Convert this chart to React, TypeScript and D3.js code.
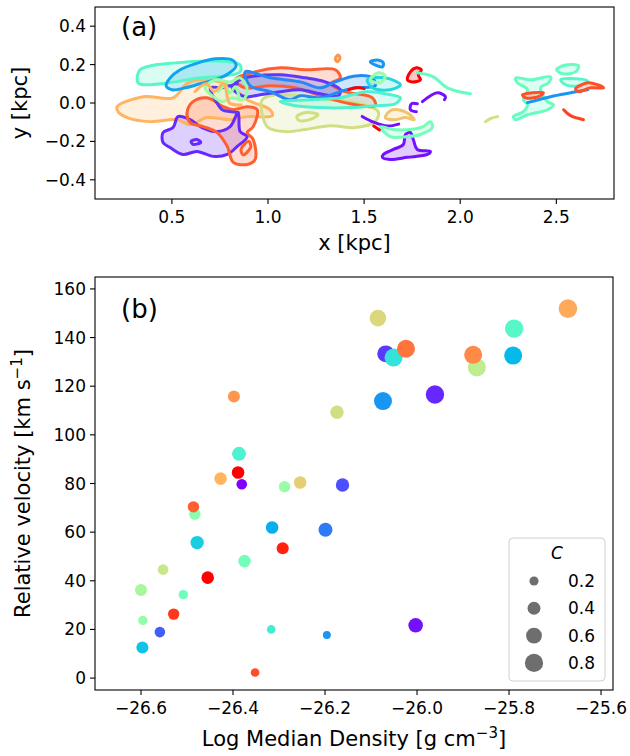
import React from 'react';
import * as d3 from 'd3';

const W = 630;
const H = 756;
const FONT = 'DejaVu Sans, sans-serif';

// ---- panel (b): clump properties ----
const logDensity = [
  -26.398, -26.174, -26.387, -26.389, -26.427, -26.381, -26.288, -26.254, -26.162,
  -26.085, -26.068, -26.051, -26.024, -26.074, -25.961, -25.870, -25.878, -25.789,
  -25.791, -25.672, -26.483, -26.486, -26.478, -26.315, -26.199, -26.292, -26.375,
  -26.455, -26.552, -26.600, -26.508, -26.529, -26.596, -26.559, -26.597, -26.317,
  -26.196, -26.352, -26.003,
];
const velocity = [
  115.8, 109.3, 92.2, 84.5, 82.0, 79.7, 78.7, 80.4, 79.4,
  148.0, 133.3, 131.8, 135.4, 113.9, 116.6, 127.7, 132.9, 143.7,
  132.6, 151.9, 67.4, 70.4, 55.7, 61.9, 61.0, 53.4, 48.1,
  41.3, 44.6, 36.2, 34.3, 26.3, 23.7, 18.9, 12.6, 20.0,
  17.7, 2.3, 21.7,
];
const concentration = [
  0.35, 0.43, 0.47, 0.38, 0.38, 0.27, 0.31, 0.38, 0.43,
  0.66, 0.69, 0.78, 0.78, 0.78, 0.81, 0.78, 0.78, 0.81,
  0.78, 0.83, 0.31, 0.31, 0.43, 0.38, 0.47, 0.35, 0.38,
  0.38, 0.27, 0.35, 0.21, 0.31, 0.21, 0.27, 0.35, 0.18,
  0.15, 0.18, 0.51,
];
const hue = [
  0.80, 0.66, 0.40, 1.00, 0.75, 0.00, 0.55, 0.70, 0.10,
  0.68, 0.07, 0.35, 0.85, 0.20, 0.05, 0.62, 0.82, 0.42,
  0.26, 0.77, 0.52, 0.88, 0.30, 0.24, 0.16, 0.96, 0.48,
  1.00, 0.64, 0.58, 0.47, 0.93, 0.54, 0.12, 0.28, 0.38,
  0.20, 0.90, 0.02,
];

const xTicksA = [0.5, 1.0, 1.5, 2.0, 2.5];
const yTicksA = [-0.4, -0.2, 0.0, 0.2, 0.4];
const xTicksB = [-26.6, -26.4, -26.2, -26.0, -25.8, -25.6];
const yTicksB = [0, 20, 40, 60, 80, 100, 120, 140, 160];
const legendC = [0.2, 0.4, 0.6, 0.8];

// ---- panel (a): projected clump outlines, [x, y] in kpc ----
type Cloud = { h: number; closed: boolean; fill: boolean; pts: [number, number][] };
const clouds: Cloud[] = [
  { h: 0.75, closed: true, fill: true, pts: [[0.215, -0.019], [0.35, 0.033], [0.506, 0.027], [0.584, 0.105], [0.699, 0.121], [0.819, 0.079], [0.892, 0.017], [1.011, -0.035], [1.022, -0.066], [0.892, -0.071], [0.803, -0.087], [0.683, -0.076], [0.595, -0.113], [0.527, -0.087], [0.386, -0.097], [0.267, -0.076], [0.22, -0.045]] },
  { h: 0.66, closed: true, fill: true, pts: [[0.97, 0.017], [1.038, 0.043], [1.168, 0.038], [1.324, 0.017], [1.48, -0.004], [1.574, -0.045], [1.558, -0.097], [1.454, -0.128], [1.324, -0.118], [1.194, -0.138], [1.09, -0.149], [1.001, -0.128], [0.97, -0.061]] },
  { h: 0.66, closed: true, fill: false, pts: [[1.15, -0.07], [1.2, -0.05], [1.26, -0.06], [1.22, -0.085], [1.16, -0.09]] },
  { h: 0.05, closed: true, fill: true, pts: [[0.454, -0.154], [0.506, -0.128], [0.532, -0.071], [0.595, -0.087], [0.657, -0.128], [0.735, -0.149], [0.803, -0.123], [0.845, -0.05], [0.855, -0.149], [0.892, -0.175], [0.84, -0.226], [0.788, -0.268], [0.715, -0.278], [0.631, -0.252], [0.558, -0.268], [0.491, -0.232], [0.454, -0.206]] },
  { h: 0.05, closed: true, fill: false, pts: [[0.6, -0.2], [0.63, -0.19], [0.65, -0.205], [0.61, -0.215]] },
  { h: 0.88, closed: true, fill: true, pts: [[0.579, -0.05], [0.61, 0.007], [0.683, 0.027], [0.767, -0.019], [0.819, -0.035], [0.892, -0.019], [0.944, -0.035], [0.923, -0.123], [0.892, -0.154], [0.923, -0.19], [0.933, -0.294], [0.892, -0.32], [0.819, -0.309], [0.788, -0.226], [0.735, -0.154], [0.663, -0.123], [0.595, -0.102]] },
  { h: 0.88, closed: true, fill: false, pts: [[0.86, -0.24], [0.9, -0.2], [0.91, -0.23], [0.87, -0.27]] },
  { h: 0.42, closed: true, fill: true, pts: [[0.319, 0.121], [0.334, 0.173], [0.386, 0.193], [0.517, 0.209], [0.673, 0.219], [0.803, 0.214], [0.855, 0.198], [0.855, 0.162], [0.777, 0.141], [0.647, 0.131], [0.517, 0.11], [0.386, 0.095], [0.329, 0.1]] },
  { h: 0.22, closed: true, fill: true, pts: [[0.47, 0.09], [0.491, 0.131], [0.543, 0.173], [0.621, 0.204], [0.725, 0.23], [0.814, 0.224], [0.834, 0.193], [0.793, 0.152], [0.725, 0.121], [0.647, 0.1], [0.569, 0.079], [0.501, 0.069]] },
  { h: 0.88, closed: true, fill: true, pts: [[0.829, 0.121], [0.933, 0.162], [1.064, 0.183], [1.194, 0.173], [1.35, 0.173], [1.376, 0.131], [1.324, 0.1], [1.402, 0.059], [1.543, 0.027], [1.558, -0.014], [1.428, -0.004], [1.272, 0.038], [1.142, 0.079], [1.011, 0.09], [0.881, 0.079]] },
  { h: 0.07, closed: true, fill: true, pts: [[0.814, 0.079], [0.855, 0.121], [0.933, 0.141], [1.064, 0.147], [1.194, 0.131], [1.298, 0.11], [1.376, 0.069], [1.366, 0.038], [1.272, 0.048], [1.168, 0.069], [1.064, 0.059], [0.959, 0.043], [0.881, 0.033]] },
  { h: 0.07, closed: false, fill: false, pts: [[0.84, 0.1], [0.76, 0.08], [0.7, 0.079], [0.725, 0.017], [0.762, -0.035], [0.803, -0.045], [0.845, -0.05]] },
  { h: 0.18, closed: true, fill: true, pts: [[0.881, 0.162], [1.011, 0.131], [1.168, 0.11], [1.272, 0.079], [1.35, 0.11], [1.454, 0.141], [1.543, 0.131], [1.558, 0.09], [1.454, 0.079], [1.376, 0.059], [1.272, 0.027], [1.168, 0.038], [1.116, 0.017], [1.011, 0.059], [0.907, 0.09]] },
  { h: 0.55, closed: true, fill: true, pts: [[0.673, 0.079], [0.725, 0.121], [0.803, 0.11], [0.855, 0.131], [0.892, 0.069], [0.871, 0.017], [0.814, 0.027], [0.762, 0.007], [0.71, 0.038]] },
  { h: 0.55, closed: false, fill: false, pts: [[0.74, 0.06], [0.78, 0.09], [0.8, 0.05], [0.83, 0.085], [0.85, 0.03]] },
  { h: 0.75, closed: false, fill: false, pts: [[0.62, 0.06], [0.68, 0.1], [0.72, 0.06], [0.77, 0.1], [0.8, 0.0], [0.86, -0.01]] },
  { h: 0.4, closed: true, fill: true, pts: [[1.064, 0.007], [1.22, 0.017], [1.376, 0.027], [1.506, 0.059], [1.61, 0.048], [1.689, 0.027], [1.663, -0.004], [1.558, -0.014], [1.428, -0.024], [1.272, -0.024], [1.142, -0.014]] },
  { h: 0.32, closed: true, fill: true, pts: [[1.517, 0.121], [1.61, 0.131], [1.689, 0.095], [1.636, 0.069], [1.543, 0.079]] },
  { h: 1.0, closed: false, fill: false, pts: [[1.42, 0.07], [1.46, 0.08], [1.5, 0.075]] },
  { h: 0.8, closed: true, fill: true, pts: [[1.35, 0.23], [1.365, 0.25], [1.375, 0.235], [1.36, 0.215]] },
  { h: 1.0, closed: true, fill: true, pts: [[1.725, 0.121], [1.741, 0.162], [1.772, 0.183], [1.798, 0.173], [1.782, 0.147], [1.793, 0.121], [1.751, 0.11]] },
  { h: 0.45, closed: false, fill: false, pts: [[1.777, 0.157], [1.86, 0.136], [1.933, 0.079], [2.053, 0.048]] },
  { h: 0.02, closed: false, fill: false, pts: [[1.777, -0.004], [1.746, -0.004], [1.741, -0.035], [1.772, -0.045]] },
  { h: 0.02, closed: false, fill: false, pts: [[1.803, 0.007], [1.881, 0.053], [1.923, 0.033], [1.918, 0.017]] },
  { h: 0.02, closed: false, fill: false, pts: [[1.49, -0.07], [1.55, -0.1], [1.62, -0.12], [1.68, -0.11]] },
  { h: 0.66, closed: false, fill: false, pts: [[2.131, -0.097], [2.16, -0.08], [2.194, -0.071]] },
  { h: 0.02, closed: true, fill: true, pts: [[1.6, -0.268], [1.652, -0.242], [1.704, -0.216], [1.715, -0.164], [1.741, -0.154], [1.756, -0.19], [1.777, -0.242], [1.845, -0.252], [1.829, -0.268], [1.725, -0.283], [1.636, -0.294], [1.595, -0.283]] },
  { h: 0.48, closed: true, fill: true, pts: [[1.584, -0.123], [1.652, -0.138], [1.741, -0.138], [1.808, -0.123], [1.845, -0.097], [1.855, -0.128], [1.793, -0.164], [1.725, -0.175], [1.636, -0.175]] },
  { h: 1.0, closed: false, fill: false, pts: [[1.55, -0.12], [1.58, -0.14]] },
  { h: 0.72, closed: true, fill: true, pts: [[1.61, -0.076], [1.636, -0.04], [1.678, -0.035], [1.73, -0.055], [1.761, -0.087], [1.715, -0.076], [1.663, -0.087]] },
  { h: 0.2, closed: true, fill: true, pts: [[1.532, 0.214], [1.568, 0.224], [1.6, 0.209], [1.595, 0.188]] },
  { h: 0.55, closed: true, fill: true, pts: [[1.532, 0.121], [1.574, 0.157], [1.61, 0.141], [1.584, 0.105]] },
  { h: 0.45, closed: true, fill: true, pts: [[2.288, 0.131], [2.366, 0.121], [2.47, 0.136], [2.459, 0.105], [2.418, 0.079], [2.454, 0.007], [2.485, -0.009], [2.454, -0.035], [2.35, -0.061], [2.288, -0.087], [2.277, -0.071], [2.329, -0.045], [2.35, -0.009], [2.329, 0.017], [2.35, 0.069], [2.298, 0.105]] },
  { h: 0.45, closed: true, fill: true, pts: [[2.501, 0.173], [2.548, 0.198], [2.616, 0.193], [2.6, 0.162], [2.533, 0.152]] },
  { h: 0.42, closed: true, fill: true, pts: [[2.522, 0.121], [2.6, 0.126], [2.663, 0.115], [2.616, 0.09], [2.548, 0.095]] },
  { h: 0.2, closed: false, fill: false, pts: [[2.35, 0.002], [2.47, 0.033], [2.574, 0.053], [2.663, 0.069]] },
  { h: 0.9, closed: true, fill: true, pts: [[2.324, 0.043], [2.376, 0.053], [2.433, 0.053], [2.407, 0.033], [2.34, 0.027]] },
  { h: 0.9, closed: true, fill: true, pts: [[2.6, 0.074], [2.663, 0.105], [2.715, 0.095], [2.746, 0.079], [2.678, 0.079], [2.616, 0.059]] },
  { h: 0.92, closed: false, fill: false, pts: [[2.538, -0.035], [2.574, -0.066], [2.641, -0.087]] },
];

// matplotlib "rainbow" colormap
function rainbow(t: number): string {
  const r = Math.min(1, Math.abs(2 * t - 0.5));
  const g = Math.sin(Math.PI * t);
  const b = Math.cos((Math.PI * t) / 2);
  return d3.rgb(r * 255, g * 255, b * 255).formatHex();
}

export default function App() {
  // panel (a) geometry
  const ax = { l: 95, r: 614, t: 7, b: 199 };
  const xA = d3.scaleLinear().domain([0.1, 2.8]).range([ax.l, ax.r]);
  const yA = d3.scaleLinear().domain([-0.5, 0.5]).range([ax.b, ax.t]);

  // panel (b) geometry
  const bx = { l: 95, r: 613, t: 277, b: 690 };
  const xB = d3.scaleLinear().domain([-26.7, -25.574]).range([bx.l, bx.r]);
  const yB = d3.scaleLinear().domain([-4.9, 164.9]).range([bx.b, bx.t]);
  const rB = d3.scaleSqrt().domain([0, 1]).range([0, 10.2]);

  const closedLine = d3.line<[number, number]>()
    .x(d => xA(d[0])).y(d => yA(d[1]))
    .curve(d3.curveCatmullRomClosed.alpha(0.5));
  const openLine = d3.line<[number, number]>()
    .x(d => xA(d[0])).y(d => yA(d[1]))
    .curve(d3.curveCatmullRom.alpha(0.5));

  const fmt1 = d3.format('.1f');
  const tickFont = 17;
  const labelFont = 21;

  return (
    <svg width={W} height={H} style={{ position: 'absolute', left: 0, top: 0, background: '#fff' }} fontFamily={FONT}>
      <defs>
        <clipPath id="clipA"><rect x={ax.l} y={ax.t} width={ax.r - ax.l} height={ax.b - ax.t} /></clipPath>
        <clipPath id="clipB"><rect x={bx.l} y={bx.t} width={bx.r - bx.l} height={bx.b - bx.t} /></clipPath>
      </defs>

      {/* ---------- panel (a) ---------- */}
      <g clipPath="url(#clipA)">
        {clouds.filter(c => c.fill).map((c, i) => (
          <path key={'f' + i} d={closedLine(c.pts) || ''} fill={rainbow(c.h)} fillOpacity={0.22} stroke="none" />
        ))}
        {clouds.map((c, i) => (
          <path key={'s' + i} d={(c.closed ? closedLine(c.pts) : openLine(c.pts)) || ''}
            fill="none" stroke={rainbow(c.h)} strokeWidth={3} strokeLinejoin="round" strokeLinecap="round" />
        ))}
      </g>
      <rect x={ax.l} y={ax.t} width={ax.r - ax.l} height={ax.b - ax.t} fill="none" stroke="#000" strokeWidth={1.1} />
      {xTicksA.map(t => (
        <g key={'xa' + t}>
          <line x1={xA(t)} x2={xA(t)} y1={ax.b} y2={ax.b + 5} stroke="#000" strokeWidth={1.1} />
          <text x={xA(t)} y={ax.b + 24} fontSize={tickFont} textAnchor="middle">{fmt1(t)}</text>
        </g>
      ))}
      {yTicksA.map(t => (
        <g key={'ya' + t}>
          <line x1={ax.l - 5} x2={ax.l} y1={yA(t)} y2={yA(t)} stroke="#000" strokeWidth={1.1} />
          <text x={ax.l - 9} y={yA(t) + 6} fontSize={tickFont} textAnchor="end">{fmt1(t)}</text>
        </g>
      ))}
      <text x={(ax.l + ax.r) / 2} y={250} fontSize={labelFont} textAnchor="middle">x [kpc]</text>
      <text transform={`translate(27, ${(ax.t + ax.b) / 2}) rotate(-90)`} fontSize={labelFont} textAnchor="middle">y [kpc]</text>
      <text x={121} y={36} fontSize={26}>(a)</text>

      {/* ---------- panel (b) ---------- */}
      <g clipPath="url(#clipB)">
        {logDensity.map((d, i) => (
          <circle key={'p' + i} cx={xB(d)} cy={yB(velocity[i])} r={rB(concentration[i])} fill={rainbow(hue[i])} />
        ))}
      </g>
      <rect x={bx.l} y={bx.t} width={bx.r - bx.l} height={bx.b - bx.t} fill="none" stroke="#000" strokeWidth={1.1} />
      {xTicksB.map(t => (
        <g key={'xb' + t}>
          <line x1={xB(t)} x2={xB(t)} y1={bx.b} y2={bx.b + 5} stroke="#000" strokeWidth={1.1} />
          <text x={xB(t)} y={bx.b + 24} fontSize={tickFont} textAnchor="middle">{fmt1(t)}</text>
        </g>
      ))}
      {yTicksB.map(t => (
        <g key={'yb' + t}>
          <line x1={bx.l - 5} x2={bx.l} y1={yB(t)} y2={yB(t)} stroke="#000" strokeWidth={1.1} />
          <text x={bx.l - 9} y={yB(t) + 6} fontSize={tickFont} textAnchor="end">{t}</text>
        </g>
      ))}
      <text x={(bx.l + bx.r) / 2} y={746} fontSize={labelFont} textAnchor="middle">
        <tspan>Log Median Density [g cm</tspan>
        <tspan dy={-8} fontSize={15}>−3</tspan>
        <tspan dy={8}>]</tspan>
      </text>
      <text transform={`translate(30, ${(bx.t + bx.b) / 2}) rotate(-90)`} fontSize={labelFont} textAnchor="middle">
        <tspan>Relative velocity [km s</tspan>
        <tspan dy={-8} fontSize={15}>−1</tspan>
        <tspan dy={8}>]</tspan>
      </text>
      <text x={121} y={318} fontSize={26}>(b)</text>

      {/* legend */}
      <g>
        <rect x={509} y={538} width={96} height={143} rx={4} fill="#fff" fillOpacity={0.8} stroke="#d0d0d0" strokeWidth={1} />
        <text x={557} y={559} fontSize={17} fontStyle="italic" textAnchor="middle">C</text>
        {legendC.map((c, i) => (
          <g key={'lg' + c}>
            <circle cx={534} cy={581 + i * 27.3} r={rB(c)} fill="#6e6e6e" />
            <text x={568} y={581 + i * 27.3 + 6} fontSize={17}>{fmt1(c)}</text>
          </g>
        ))}
      </g>
    </svg>
  );
}
